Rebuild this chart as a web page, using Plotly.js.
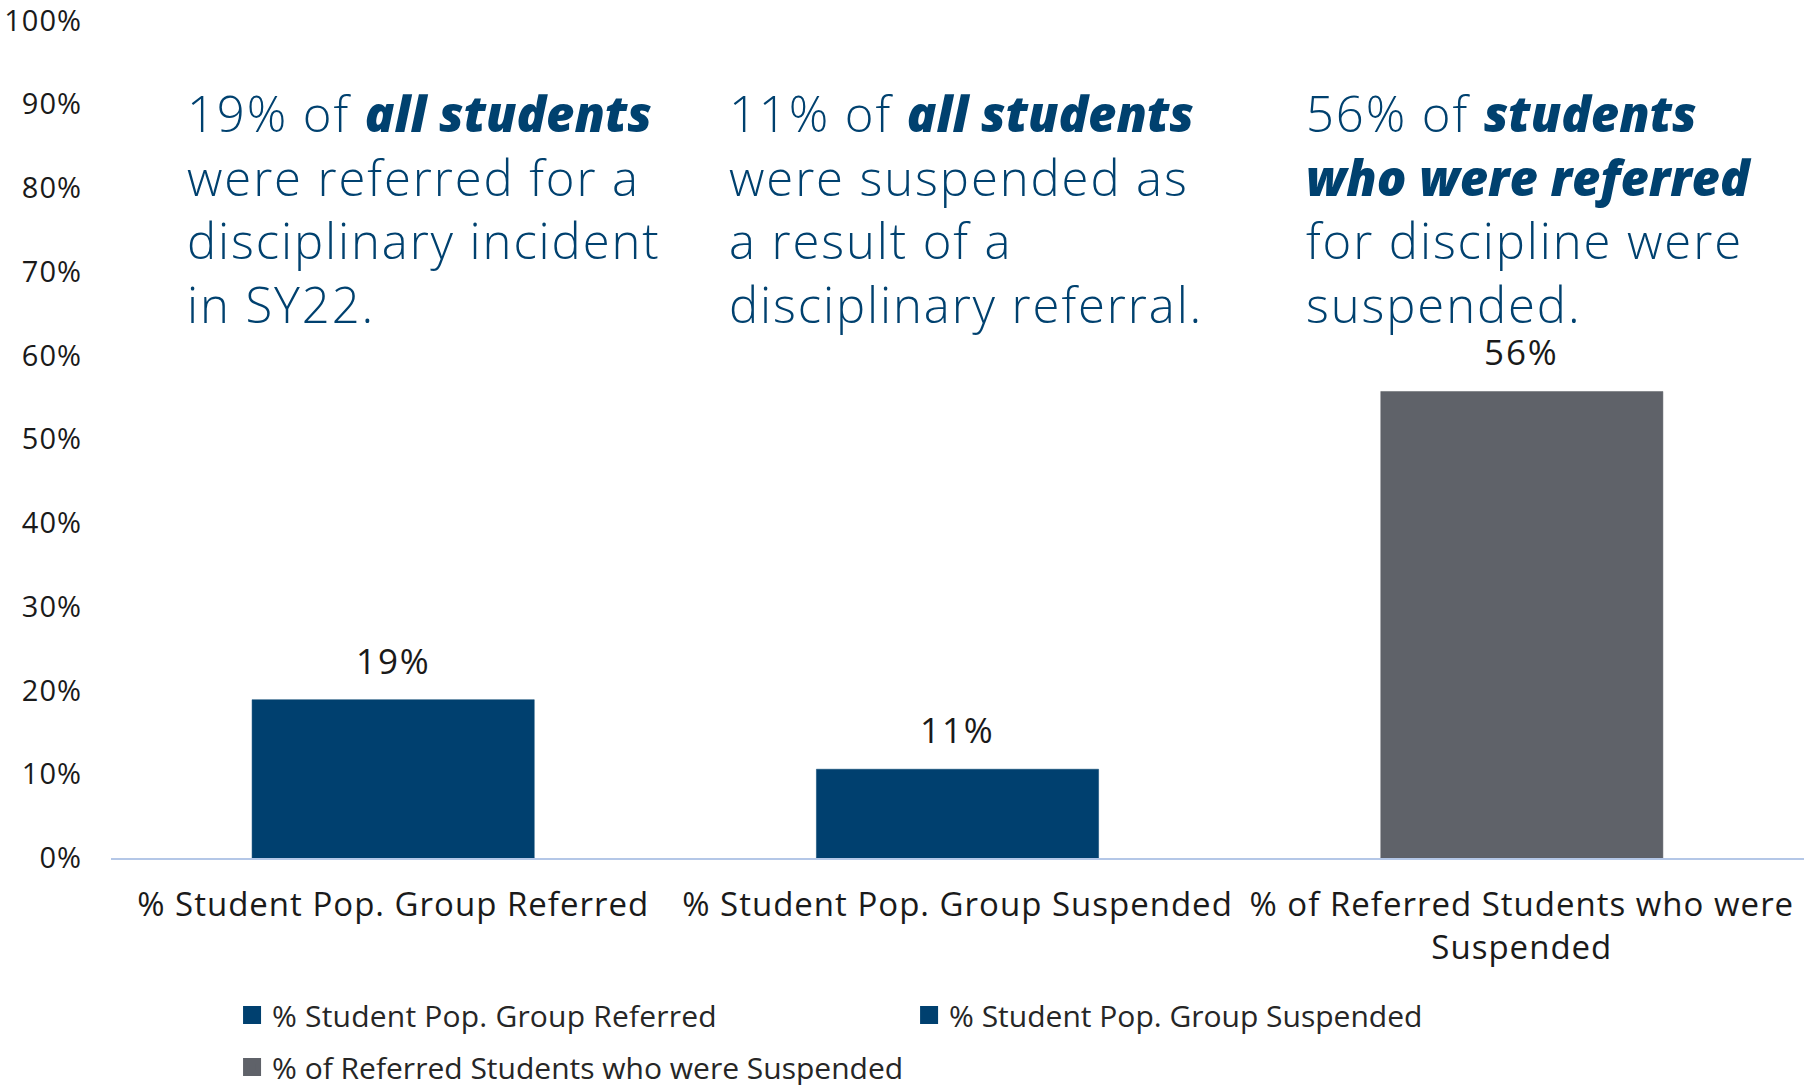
<!DOCTYPE html>
<html>
<head>
<meta charset="utf-8">
<script src="https://cdn.plot.ly/plotly-3.0.1.min.js"></script>
<style>
html,body{margin:0;padding:0;background:#fff;}
#chart{width:1819px;height:1085px;}
text.annotation-text{letter-spacing:1.9px;}
.xtick text{letter-spacing:1px;}
.ytick text{letter-spacing:1px;}
text.legendtext{letter-spacing:1.6px;}
g.legend text.legendtext{letter-spacing:0.2px;}
#chart .legendpoints path{stroke-width:6px !important; stroke-linejoin:miter;}
</style>
</head>
<body>
<div id="chart"></div>
<script>
const categories = ['% Student Pop. Group Referred', '% Student Pop. Group Suspended', '% of Referred Students who were Suspended'];
const tickLabels = ['% Student Pop. Group Referred', '% Student Pop. Group Suspended', '% of Referred Students who were<br>Suspended'];
const values = [0.189, 0.106, 0.557];
const barColors = ['#00406f', '#00406f', '#5f6269'];
const B = '<span style="font-weight:800;letter-spacing:0px"><i>';
const E = '</i></span>';
const callouts = [
  '19% of ' + B + 'all students' + E + '<br>were referred for a<br>disciplinary incident<br>in SY22.',
  '11% of ' + B + 'all students' + E + '<br>were suspended as<br>a result of a<br>disciplinary referral.',
  '56% of ' + B + 'students' + E + '<br>' + B + 'who were referred' + E + '<br>for discipline were<br>suspended.'
];
const yTicks = [0, 0.1, 0.2, 0.3, 0.4, 0.5, 0.6, 0.7, 0.8, 0.9, 1.0];

const FONT = '"Open Sans", "Noto Sans", sans-serif';
const legendNames = ['legend', 'legend2', 'legend3'];

const traces = categories.map((c, i) => ({
  type: 'bar',
  x: [c],
  y: [values[i]],
  name: c,
  marker: {color: barColors[i], line: {color: barColors[i], width: 0.5}},
  legend: legendNames[i],
  hoverinfo: 'x+y'
}));

function pct(v){ return Math.round(v*100) + '%'; }

const calloutX = [0.0443, 0.3644, 0.7052];
const annotations = callouts.map((t, i) => ({
  xref: 'paper', yref: 'paper', x: calloutX[i], y: 0.929,
  xanchor: 'left', yanchor: 'top', align: 'left', showarrow: false, borderpad: 0,
  text: t, font: {family: FONT, size: 49, color: '#00416f', weight: 300}
}));
categories.forEach((c, i) => {
  annotations.push({
    xref: 'x', yref: 'y', x: c, y: values[i], yanchor: 'bottom', yshift: 14,
    showarrow: false, text: pct(values[i]),
    font: {family: FONT, size: 35, color: '#1a1a1a'}
  });
});

const legendFont = {family: FONT, size: 30, color: '#262626'};
const layout = {
  width: 1819, height: 1085,
  margin: {l: 111, r: 15, t: 20, b: 227, autoexpand: false},
  paper_bgcolor: '#ffffff', plot_bgcolor: '#ffffff',
  barmode: 'overlay', bargap: 0.5,
  font: {family: FONT, color: '#1a1a1a'},
  xaxis: {
    type: 'category', tickvals: categories, ticktext: tickLabels,
    showline: true, linecolor: '#b4c7e7', linewidth: 2,
    showgrid: false, ticks: '', zeroline: false,
    tickfont: {family: FONT, size: 33, color: '#1a1a1a'},
    ticklabelstandoff: 16, ticklabeloverflow: 'allow'
  },
  yaxis: {
    range: [0, 1.0005], tickvals: yTicks, tickformat: '.0%',
    showgrid: false, zeroline: false, showline: false, ticks: '',
    tickfont: {family: FONT, size: 29, color: '#1a1a1a'},
    ticklabelstandoff: 28, ticklabeloverflow: 'allow'
  },
  legend: {orientation: 'h', x: 0.0715, y: -0.1874, xanchor: 'left', yanchor: 'middle', font: legendFont, bgcolor: 'rgba(0,0,0,0)'},
  legend2: {orientation: 'h', x: 0.4714, y: -0.1874, xanchor: 'left', yanchor: 'middle', font: legendFont, bgcolor: 'rgba(0,0,0,0)'},
  legend3: {orientation: 'h', x: 0.0715, y: -0.2494, xanchor: 'left', yanchor: 'middle', font: legendFont, bgcolor: 'rgba(0,0,0,0)'},
  annotations: annotations,
  showlegend: true
};

Plotly.newPlot('chart', traces, layout, {displayModeBar: false});
</script>
</body>
</html>
